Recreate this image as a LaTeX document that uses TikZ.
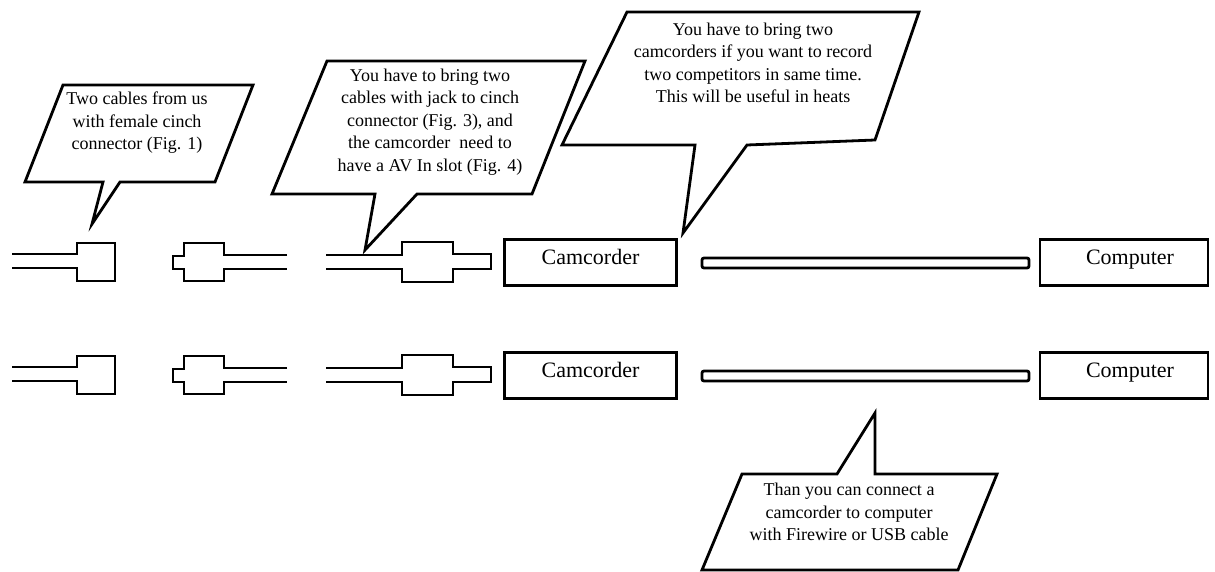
\documentclass[tikz,border=0pt]{standalone}
\usepackage{fontspec}
\setmainfont{Liberation Serif}

\begin{document}
\begin{tikzpicture}[x=1pt, y=-1pt,
    plug/.style={line width=2.8pt, line join=miter},
    device/.style={draw, line width=2.8pt, minimum width=172pt, minimum height=46pt,
        inner sep=0pt, text height=10pt, text depth=7pt, font=\fontsize{22}{26}\selectfont},
    bubble/.style={line width=2.8pt, line join=miter, fill=white},
    note/.style={align=center, inner sep=0pt, font=\fontsize{18}{22.5}\selectfont}]
\useasboundingbox (0,0) rectangle (1215,572);

% Row 1: female cinch, jack, cinch cable
\draw[plug] (12,254) -- (77,254) -- (77,243) -- (115,243) -- (115,281) -- (77,281) -- (77,268) -- (12,268);
\draw[plug] (287,255) -- (224,255) -- (224,243) -- (184,243) -- (184,256) -- (173,256) -- (173,269)
    -- (184,269) -- (184,281) -- (224,281) -- (224,269) -- (287,269);
\draw[plug] (326,255) -- (402,255) -- (402,242) -- (453,242) -- (453,254) -- (491,254) -- (491,269)
    -- (453,269) -- (453,282) -- (402,282) -- (402,269) -- (326,269);

% Row 1: camcorder -- computer
\node[device] (cam1) at (590.5,262.5) {Camcorder};
\draw[plug, rounded corners=2pt] (702,258) rectangle (1029,268);
\node[device, minimum width=168pt] (pc1) at (1124,262.5) {\hspace{12pt}Computer};

% Row 2: same again
\draw[plug] (12,367) -- (77,367) -- (77,356) -- (115,356) -- (115,394) -- (77,394) -- (77,381) -- (12,381);
\draw[plug] (287,368) -- (224,368) -- (224,356) -- (184,356) -- (184,369) -- (173,369) -- (173,382)
    -- (184,382) -- (184,394) -- (224,394) -- (224,382) -- (287,382);
\draw[plug] (326,368) -- (402,368) -- (402,355) -- (453,355) -- (453,367) -- (491,367) -- (491,382)
    -- (453,382) -- (453,395) -- (402,395) -- (402,382) -- (326,382);

\node[device] (cam2) at (590.5,375.5) {Camcorder};
\draw[plug, rounded corners=2pt] (702,371) rectangle (1029,381);
\node[device, minimum width=168pt] (pc2) at (1124,375.5) {\hspace{12pt}Computer};

% Callouts
\draw[bubble] (63,85) -- (253,85) -- (215,182) -- (120,182) -- (92,224) -- (103,182) -- (25,182) -- cycle;
\node[note] (cables) at (137,123) {Two cables from us\\with female cinch\\connector (Fig. 1)};

\draw[bubble] (327,61) -- (585,61) -- (532,194) -- (417,194) -- (365,250) -- (375,194) -- (272,194) -- cycle;
\node[note] (jack) at (430,122) {You have to bring two\\cables with jack to cinch\\connector (Fig. 3), and\\the camcorder~ need to\\have a AV In slot (Fig. 4)};

\draw[bubble] (627,12) -- (919,12) -- (875,140) -- (747,145) -- (683,233) -- (695,145) -- (562,145) -- cycle;
\node[note] (twocams) at (753,63) {You have to bring two\\camcorders if you want to record\\two competitors in same time.\\This will be useful in heats};

\draw[bubble] (742,474) -- (837,474) -- (875,413) -- (875,474) -- (997,474) -- (958,570) -- (702,570) -- cycle;
\node[note] (usb) at (849,512) {Than you can connect a\\camcorder to computer\\with Firewire or USB cable};
\end{tikzpicture}
\end{document}
